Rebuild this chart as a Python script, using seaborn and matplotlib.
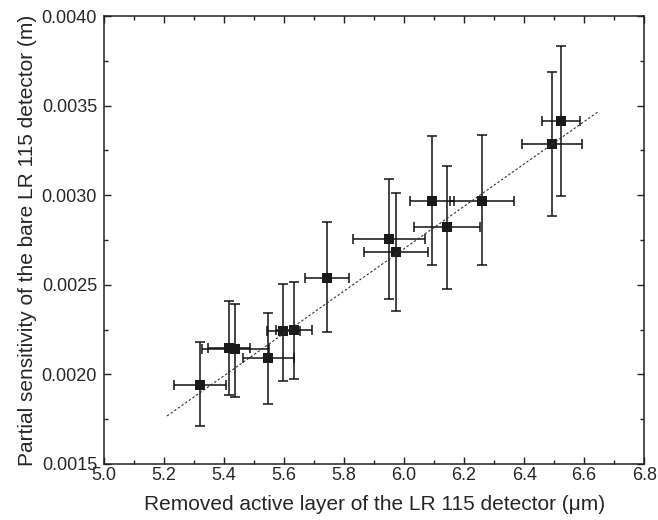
import numpy as np
import pandas as pd
import matplotlib
matplotlib.use('Agg')
import matplotlib.pyplot as plt
import seaborn as sns
from matplotlib.ticker import MultipleLocator, FormatStrFormatter

# removed layer (um), partial sensitivity (m) and error bar ends
layer = [5.320, 5.417, 5.437, 5.547, 5.597, 5.633, 5.743,
         5.950, 5.973, 6.093, 6.143, 6.260, 6.493, 6.523]
sens = [0.00194, 0.00215, 0.00214, 0.00209, 0.00224, 0.00225, 0.00254,
        0.002756, 0.002683, 0.00297, 0.00282, 0.00297, 0.003286, 0.003414]
layer_err = [0.085, 0.070, 0.112, 0.085, 0.055, 0.060, 0.072,
             0.120, 0.107, 0.072, 0.110, 0.107, 0.100, 0.063]
sens_lo = [0.001712, 0.001885, 0.001874, 0.001835, 0.001963, 0.001974, 0.002237,
           0.002420, 0.002354, 0.002610, 0.002477, 0.002610, 0.002884, 0.002996]
sens_hi = [0.002180, 0.002410, 0.002393, 0.002343, 0.002504, 0.002516, 0.002850,
           0.003090, 0.003012, 0.003330, 0.003163, 0.003336, 0.003688, 0.003833]

# linear fit line ends
fit_x = [5.21, 6.645]
fit_y = [0.001768, 0.003464]

df = pd.DataFrame({'layer': layer, 'sens': sens})
fit = pd.DataFrame({'x': fit_x, 'y': fit_y})
yerr = np.array([np.array(sens) - np.array(sens_lo), np.array(sens_hi) - np.array(sens)])

sns.set_style('ticks')
plt.rcParams['font.family'] = ['Liberation Sans', 'DejaVu Sans']
plt.rcParams['axes.linewidth'] = 1.1
plt.rcParams['axes.edgecolor'] = '#222222'

fig = plt.figure(figsize=(6.58, 5.2), dpi=100)
ax = fig.add_axes([0.158, 0.1077, 0.821, 0.8615])

ax.errorbar(layer, sens, xerr=layer_err, yerr=yerr, fmt='none',
            ecolor='#111111', elinewidth=1.1, capsize=3.3, capthick=1.1, zorder=2)
sns.scatterplot(data=df, x='layer', y='sens', marker='s', s=45, color='#1a1a1a',
                edgecolor='#1a1a1a', linewidth=0, ax=ax, zorder=3)
sns.lineplot(data=fit, x='x', y='y', color='#333333', linewidth=0.8,
             dashes=False, ax=ax, zorder=4)
ax.lines[-1].set_linestyle((0, (2.2, 1.8)))

ax.set_xlim(5.0, 6.8)
ax.set_ylim(0.0015, 0.0040)
ax.xaxis.set_major_locator(MultipleLocator(0.2))
ax.xaxis.set_minor_locator(MultipleLocator(0.1))
ax.yaxis.set_major_locator(MultipleLocator(0.0005))
ax.yaxis.set_minor_locator(MultipleLocator(0.00025))
ax.xaxis.set_major_formatter(FormatStrFormatter('%.1f'))
ax.yaxis.set_major_formatter(FormatStrFormatter('%.4f'))
ax.tick_params(which='both', direction='in', top=True, right=True,
               labelsize=13, color='#222222')
ax.tick_params(axis='y', pad=5)
ax.tick_params(axis='x', pad=2)
ax.tick_params(which='major', length=5, width=1)
ax.tick_params(which='minor', length=3, width=1)

ax.set_xlabel('Removed active layer of the LR 115 detector (\u03bcm)', fontsize=15, labelpad=8)
ax.set_ylabel('Partial sensitivity of the bare LR 115 detector (m)', fontsize=15, labelpad=3)

fig.savefig('out.png', dpi=100)
